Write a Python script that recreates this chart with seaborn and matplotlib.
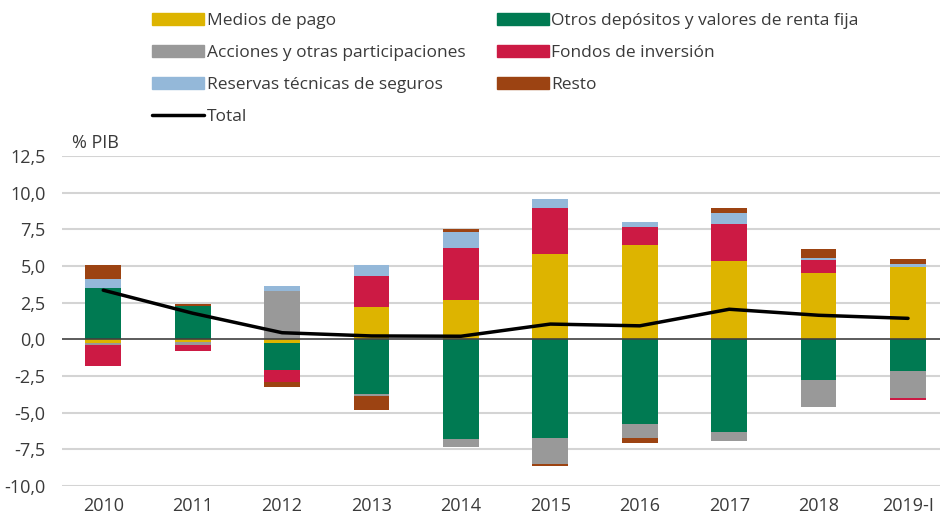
import numpy as np
import pandas as pd
import seaborn as sns
import matplotlib.pyplot as plt
from matplotlib.patches import Patch
from matplotlib.lines import Line2D

years = ["2010", "2011", "2012", "2013", "2014", "2015", "2016", "2017", "2018", "2019-I"]

medios = [-0.25, -0.15, -0.23, 2.20, 2.68, 5.82, 6.43, 5.34, 4.52, 4.93]
otros = [3.50, 2.29, -1.84, -3.73, -6.80, -6.73, -5.78, -6.32, -2.75, -2.14]
acciones = [-0.14, -0.22, 3.30, -0.14, -0.55, -1.77, -0.95, -0.61, -1.84, -1.84]
fondos = [-1.43, -0.42, -0.84, 2.12, 3.55, 3.14, 1.23, 2.52, 0.89, -0.14]
reservas = [0.61, 0.00, 0.34, 0.75, 1.09, 0.61, 0.34, 0.75, 0.14, 0.21]
resto = [0.96, 0.14, -0.34, -0.95, 0.20, -0.14, -0.34, 0.35, 0.61, 0.34]
total = [3.35, 1.78, 0.45, 0.23, 0.21, 1.04, 0.92, 2.05, 1.64, 1.43]

series_names = ["Medios de pago", "Otros depósitos y valores de renta fija",
                "Acciones y otras participaciones", "Fondos de inversión",
                "Reservas técnicas de seguros", "Resto"]
colors = ["#DDB400", "#007A52", "#999999", "#CC1A44", "#94B8D9", "#9C4312"]

yticks = [-10.0, -7.5, -5.0, -2.5, 0.0, 2.5, 5.0, 7.5, 10.0, 12.5]

sns.set_style("white")
plt.rcParams["font.family"] = ["Open Sans", "DejaVu Sans"]
text_col = "#3A3A3A"

fig = plt.figure(figsize=(9.44, 5.21), dpi=100)
ax = fig.add_axes([0.066, 0.0672, 0.93, 0.6334])

# stacked bars: positives up, negatives down, drawn from the outermost layer inwards
data = np.array([medios, otros, acciones, fondos, reservas, resto])
pos = np.cumsum(np.clip(data, 0, None), axis=0)
neg = np.cumsum(np.clip(data, None, 0), axis=0)
for i in reversed(range(len(series_names))):
    for cum in (pos[i], neg[i]):
        df = pd.DataFrame({"year": years, "value": cum})
        sns.barplot(data=df, x="year", y="value", color=colors[i], width=0.4,
                    saturation=1, linewidth=0, ax=ax, zorder=2)

sns.lineplot(x=np.arange(len(years)), y=total, color="black", linewidth=2.5,
             ax=ax, zorder=4)

ax.set_ylim(-10, 12.5)
ax.set_xlim(-0.458, 9.36)
ax.set_yticks(yticks)
ax.set_yticklabels([f"{v:.1f}".replace(".", ",") for v in yticks])
for v in yticks:
    if v == 0:
        ax.axhline(v, color="#404040", linewidth=1.2, zorder=3)
    else:
        ax.axhline(v, color="#D4D4D4", linewidth=1.5, zorder=1)
ax.set_xlabel("")
ax.set_ylabel("")
for s in ax.spines.values():
    s.set_visible(False)
ax.tick_params(axis="both", length=0, labelsize=13, colors=text_col)
ax.tick_params(axis="y", pad=12)
ax.tick_params(axis="x", pad=8)

fig.text(0.076, 1 - 143 / 521, "% PIB", fontsize=13, color=text_col, va="center")

handles = [Patch(color=colors[0], label=series_names[0]),
           Patch(color=colors[2], label=series_names[2]),
           Patch(color=colors[4], label=series_names[4]),
           Line2D([], [], color="black", linewidth=2.5, label="Total"),
           Patch(color=colors[1], label=series_names[1]),
           Patch(color=colors[3], label=series_names[3]),
           Patch(color=colors[5], label=series_names[5])]
leg = fig.legend(handles=handles, ncol=2, loc="upper left",
                 bbox_to_anchor=(152 / 944, 1 - 13 / 521), frameon=False,
                 fontsize=12.5, handlelength=3.0, handleheight=0.65,
                 handletextpad=0.15, labelspacing=0.93, columnspacing=1.8,
                 borderpad=0, borderaxespad=0)
for t in leg.get_texts():
    t.set_color(text_col)

fig.savefig("out.png", dpi=100)
